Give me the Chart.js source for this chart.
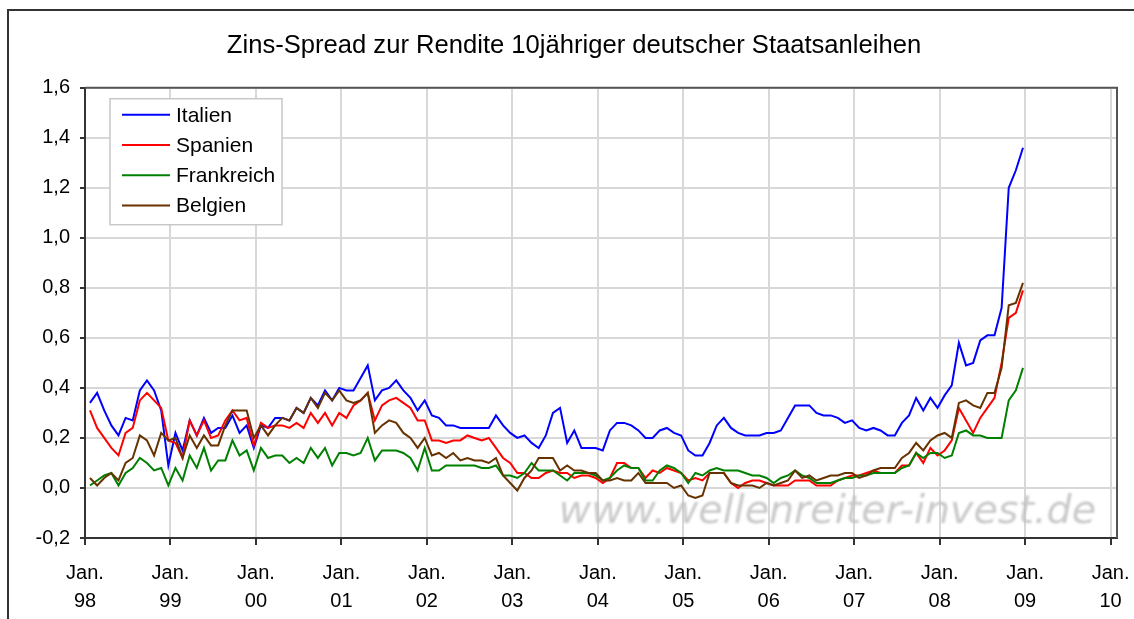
<!DOCTYPE html>
<html><head><meta charset="utf-8">
<script src="https://cdn.jsdelivr.net/npm/chart.js@4.4.1/dist/chart.umd.min.js"></script>
<style>html,body{margin:0;padding:0;background:#fff;}#wrap{width:1134px;height:619px;}</style>
</head><body><div id="wrap"><canvas id="c" width="1134" height="619"></canvas></div>
<script>
// ---- data (monthly, Jan 1998 .. Dec 2008), spread vs. 10y Bund in %-points ----
const titleText = 'Zins-Spread zur Rendite 10jähriger deutscher Staatsanleihen';
const seriesNames = ['Italien', 'Spanien', 'Frankreich', 'Belgien'];
const startYear = 1998;
const years = [1998, 1999, 2000, 2001, 2002, 2003, 2004, 2005, 2006, 2007, 2008, 2009, 2010];
const yTicks = [-0.2, 0, 0.2, 0.4, 0.6, 0.8, 1.0, 1.2, 1.4, 1.6];

const italien = [0.34,0.38,0.31,0.25,0.21,0.28,0.27,0.39,0.43,0.39,0.31,0.09,
 0.22,0.15,0.27,0.21,0.28,0.22,0.24,0.24,0.29,0.22,0.25,0.16,
 0.25,0.24,0.28,0.28,0.27,0.32,0.30,0.36,0.33,0.39,0.35,0.40,
 0.39,0.39,0.44,0.49,0.35,0.39,0.40,0.43,0.39,0.36,0.31,0.35,
 0.29,0.28,0.25,0.25,0.24,0.24,0.24,0.24,0.24,0.29,0.25,0.22,
 0.20,0.21,0.18,0.16,0.21,0.30,0.32,0.18,0.23,0.16,0.16,0.16,
 0.15,0.23,0.26,0.26,0.25,0.23,0.20,0.20,0.23,0.24,0.22,0.21,
 0.15,0.13,0.13,0.18,0.25,0.28,0.24,0.22,0.21,0.21,0.21,0.22,
 0.22,0.23,0.28,0.33,0.33,0.33,0.30,0.29,0.29,0.28,0.26,0.27,
 0.24,0.23,0.24,0.23,0.21,0.21,0.26,0.29,0.36,0.31,0.36,0.32,
 0.37,0.41,0.58,0.49,0.50,0.59,0.61,0.61,0.72,1.20,1.27,1.36];

const spanien = [0.31,0.24,0.20,0.16,0.13,0.22,0.24,0.35,0.38,0.35,0.32,0.19,
 0.18,0.12,0.27,0.21,0.27,0.20,0.21,0.27,0.31,0.27,0.28,0.17,
 0.26,0.24,0.25,0.25,0.24,0.26,0.24,0.30,0.26,0.30,0.25,0.30,
 0.28,0.33,0.35,0.38,0.27,0.33,0.35,0.36,0.34,0.32,0.27,0.27,
 0.19,0.19,0.18,0.19,0.19,0.21,0.20,0.19,0.20,0.16,0.12,0.10,
 0.06,0.06,0.04,0.04,0.06,0.07,0.06,0.06,0.04,0.05,0.05,0.04,
 0.02,0.04,0.10,0.10,0.08,0.08,0.04,0.07,0.06,0.08,0.07,0.06,
 0.03,0.04,0.03,0.06,0.06,0.06,0.02,0.00,0.02,0.03,0.03,0.02,
 0.01,0.01,0.01,0.03,0.03,0.03,0.01,0.01,0.01,0.03,0.04,0.05,
 0.05,0.06,0.07,0.06,0.06,0.06,0.09,0.09,0.14,0.10,0.16,0.13,
 0.15,0.19,0.32,0.27,0.22,0.28,0.32,0.36,0.50,0.68,0.70,0.79];

const frankreich = [0.01,0.03,0.05,0.06,0.01,0.06,0.08,0.12,0.10,0.07,0.08,0.01,
 0.08,0.03,0.13,0.08,0.16,0.07,0.11,0.11,0.19,0.13,0.15,0.07,
 0.16,0.12,0.13,0.13,0.10,0.12,0.10,0.16,0.12,0.16,0.09,0.14,
 0.14,0.13,0.14,0.20,0.11,0.15,0.15,0.15,0.14,0.12,0.07,0.16,
 0.07,0.07,0.09,0.09,0.09,0.09,0.09,0.08,0.08,0.09,0.05,0.05,
 0.04,0.06,0.10,0.07,0.07,0.07,0.05,0.03,0.06,0.06,0.06,0.05,
 0.03,0.04,0.07,0.09,0.08,0.08,0.03,0.03,0.07,0.09,0.08,0.06,
 0.02,0.06,0.05,0.07,0.08,0.07,0.07,0.07,0.06,0.05,0.05,0.04,
 0.02,0.04,0.05,0.07,0.05,0.04,0.02,0.02,0.02,0.03,0.04,0.04,
 0.05,0.05,0.06,0.06,0.06,0.06,0.08,0.09,0.14,0.12,0.14,0.14,
 0.12,0.13,0.22,0.23,0.21,0.21,0.20,0.20,0.20,0.35,0.39,0.48];

const belgien = [0.04,0.01,0.04,0.06,0.03,0.10,0.12,0.21,0.19,0.13,0.22,0.19,
 0.20,0.12,0.21,0.16,0.21,0.17,0.17,0.25,0.31,0.31,0.31,0.20,
 0.25,0.21,0.25,0.28,0.27,0.32,0.30,0.36,0.32,0.38,0.35,0.39,
 0.35,0.34,0.35,0.38,0.22,0.25,0.27,0.26,0.22,0.20,0.16,0.20,
 0.13,0.14,0.12,0.14,0.11,0.12,0.11,0.11,0.10,0.12,0.05,0.02,
 -0.01,0.04,0.07,0.12,0.12,0.12,0.07,0.09,0.07,0.07,0.06,0.06,
 0.03,0.03,0.04,0.03,0.03,0.06,0.02,0.02,0.02,0.02,0.00,0.01,
 -0.03,-0.04,-0.03,0.06,0.06,0.06,0.02,0.01,0.01,0.01,0.00,0.02,
 0.01,0.02,0.03,0.07,0.04,0.05,0.03,0.04,0.05,0.05,0.06,0.06,
 0.04,0.05,0.07,0.08,0.08,0.08,0.12,0.14,0.18,0.15,0.19,0.21,
 0.22,0.20,0.34,0.35,0.33,0.32,0.38,0.38,0.48,0.73,0.74,0.82];

const seriesColors = ['#0000ff', '#ff0000', '#008000', '#663300'];
const obsPos = 0.7; // position of each monthly observation within its month

const FONT = '"Liberation Sans", Arial, Helvetica, sans-serif';
const toPoints = arr => arr.map((v, i) => ({ x: startYear + (i + obsPos) / 12, y: v }));
const allSeries = [italien, spanien, frankreich, belgien];

const framePlugin = {
  id: 'frame',
  afterDraw(chart) {
    const { ctx, chartArea: a } = chart;
    ctx.save();
    ctx.strokeStyle = '#555';
    ctx.lineWidth = 2;
    ctx.beginPath();
    ctx.moveTo(a.left, a.top); ctx.lineTo(a.right, a.top); ctx.lineTo(a.right, a.bottom);
    ctx.stroke();
    ctx.strokeStyle = '#333';
    ctx.strokeRect(8, 10, 1400, 900);
    ctx.restore();
  }
};

const watermarkPlugin = {
  id: 'watermark',
  beforeDatasetsDraw(chart) {
    const { ctx, chartArea: a } = chart;
    const txt = 'www.wellenreiter-invest.de';
    ctx.save();
    ctx.font = 'italic 33px "DejaVu Sans", Verdana, sans-serif';
    const w = ctx.measureText(txt).width;
    const target = 538;
    const size = 33 * target / w;
    ctx.font = 'italic ' + size.toFixed(1) + 'px "DejaVu Sans", Verdana, sans-serif';
    ctx.fillStyle = 'rgba(195,195,195,0.9)';
    ctx.filter = 'blur(0.8px)';
    ctx.textBaseline = 'alphabetic';
    ctx.textAlign = 'right';
    ctx.fillText(txt, a.right - 21, a.bottom - 15);
    ctx.restore();
  }
};

const legendPlugin = {
  id: 'legendBox',
  afterDatasetsDraw(chart) {
    const { ctx, chartArea: a } = chart;
    const x0 = a.left + 25, y0 = a.top + 11, w = 172, h = 126;
    ctx.save();
    ctx.fillStyle = '#fff';
    ctx.fillRect(x0, y0, w, h);
    ctx.strokeStyle = '#c8c8c8';
    ctx.lineWidth = 1.5;
    ctx.strokeRect(x0, y0, w, h);
    chart.data.datasets.forEach((ds, i) => {
      const y = y0 + 16 + i * 30.3;
      ctx.strokeStyle = ds.borderColor;
      ctx.lineWidth = 2;
      ctx.beginPath(); ctx.moveTo(x0 + 12, y); ctx.lineTo(x0 + 60, y); ctx.stroke();
      ctx.fillStyle = '#000';
      ctx.font = '21px ' + FONT;
      ctx.textBaseline = 'middle';
      ctx.fillText(ds.label, x0 + 66, y + 1);
    });
    ctx.restore();
  }
};

new Chart(document.getElementById('c'), {
  type: 'line',
  data: {
    datasets: seriesNames.map((name, k) => ({
      label: name,
      data: toPoints(allSeries[k]),
      borderColor: seriesColors[k],
      backgroundColor: seriesColors[k],
      borderWidth: 2,
      pointRadius: 0,
      tension: 0,
      fill: false,
      order: seriesNames.length - k
    }))
  },
  options: {
    responsive: false,
    animation: false,
    devicePixelRatio: 1,
    layout: { padding: { left: 31, right: 17, top: 0, bottom: 0 } },
    plugins: {
      legend: { display: false },
      tooltip: { enabled: false },
      title: {
        display: true,
        text: titleText,
        color: '#000',
        font: { family: FONT, size: 25.6, weight: 'normal', lineHeight: 1.2 },
        padding: { top: 31, bottom: 26 }
      }
    },
    scales: {
      x: {
        type: 'linear',
        min: years[0],
        max: 2010.075,
        afterBuildTicks: s => { s.ticks = years.map(v => ({ value: v })); },
        afterFit: s => { s.height = 81; s.paddingRight = 0; s.paddingLeft = 0; },
        grid: { color: '#d8d8d8', lineWidth: 2, tickColor: '#333', tickLength: 7, tickWidth: 2 },
        border: { color: '#333', width: 2 },
        ticks: {
          autoSkip: false, maxRotation: 0, minRotation: 0, padding: 14,
          color: '#000',
          font: { family: FONT, size: 20, lineHeight: 1.4 },
          callback: v => ['Jan.', String(v).slice(2)]
        }
      },
      y: {
        min: yTicks[0],
        max: yTicks[yTicks.length - 1],
        afterBuildTicks: s => { s.ticks = yTicks.map(v => ({ value: v })); },
        afterFit: s => { s.width = 54; },
        grid: { color: '#d8d8d8', lineWidth: 2, tickColor: '#333', tickLength: 5, tickWidth: 2 },
        border: { color: '#333', width: 2 },
        ticks: {
          padding: 10, color: '#000',
          font: { family: FONT, size: 20 },
          callback: v => v.toFixed(1).replace('.', ',')
        }
      }
    }
  },
  plugins: [framePlugin, watermarkPlugin, legendPlugin]
});
</script>
</body></html>
